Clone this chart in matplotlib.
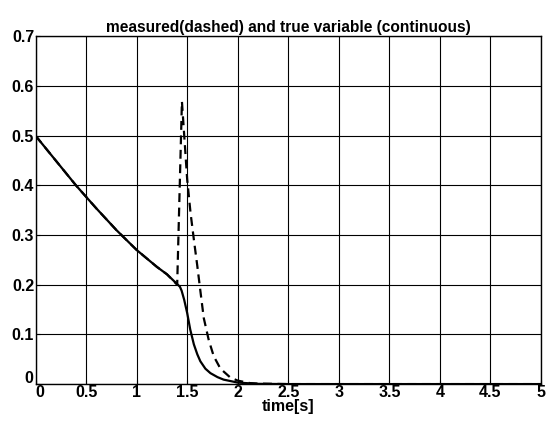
import numpy as np
import matplotlib.pyplot as plt
import matplotlib.transforms as mtransforms

plt.rcParams['font.family'] = ['Liberation Sans', 'DejaVu Sans']

# true variable (continuous)
t_true = [0, 0.2, 0.4, 0.6, 0.8, 1.0, 1.2, 1.3, 1.428, 1.445, 1.47, 1.5, 1.53, 1.566,
          1.6, 1.63, 1.68, 1.73, 1.8, 1.86, 2.0, 2.2, 2.5, 3.0, 4.0, 5.0]
y_true = [0.5, 0.45, 0.4, 0.354, 0.31, 0.27, 0.236, 0.221, 0.196, 0.188, 0.17, 0.143, 0.11, 0.08,
          0.06, 0.046, 0.031, 0.022, 0.014, 0.009, 0.003, 0.0005, 0.0, 0.0, 0.0, 0.0]

# measured variable (dashed)
t_meas = [0, 0.2, 0.4, 0.6, 0.8, 1.0, 1.2, 1.3, 1.401, 1.448, 1.5, 1.533, 1.566,
          1.6, 1.632, 1.664, 1.714, 1.763, 1.829, 1.928, 2.0, 2.12, 2.2, 2.5,
          3.0, 4.0, 5.0]
y_meas = [0.5, 0.45, 0.4, 0.354, 0.31, 0.27, 0.236, 0.221, 0.2, 0.569, 0.412, 0.345, 0.291,
          0.238, 0.185, 0.133, 0.088, 0.056, 0.031, 0.013, 0.007, 0.002, 0.001, 0.0,
          0.0, 0.0, 0.0]

fig = plt.figure(figsize=(5.47, 4.23), dpi=100)
ax = fig.add_axes([0.065, 0.092, 0.924, 0.822])

ax.plot(t_true, y_true, color='black', linewidth=1.6)
ax.plot(t_meas, y_meas, color='black', linewidth=1.6, linestyle=(0, (4, 2.5)))

ax.set_xlim(0, 5)
ax.set_ylim(0, 0.7)
ax.set_xticks(np.arange(0, 5.01, 0.5))
ax.set_yticks(np.arange(0, 0.71, 0.1))
ax.set_xticklabels(['0', '0.5', '1', '1.5', '2', '2.5', '3', '3.5', '4', '4.5', '5'])
ax.set_yticklabels(['0', '0.1', '0.2', '0.3', '0.4', '0.5', '0.6', '0.7'])
ax.grid(True, color='black', linewidth=0.8, linestyle='-')
ax.tick_params(direction='in', length=3, labelsize=11.5, pad=1)
for lab in ax.get_xticklabels() + ax.get_yticklabels():
    lab.set_fontweight('bold')
for s in ax.spines.values():
    s.set_linewidth(1.0)

# the two zero labels sit apart at the corner, as in the original
x0 = ax.get_xticklabels()[0]
x0.set_transform(x0.get_transform() + mtransforms.ScaledTranslation(3 / 72, 0, fig.dpi_scale_trans))
y0 = ax.get_yticklabels()[0]
y0.set_transform(y0.get_transform() + mtransforms.ScaledTranslation(-1 / 72, 5 / 72, fig.dpi_scale_trans))

ax.set_title('measured(dashed) and true variable (continuous)', fontsize=11.2,
             fontweight='bold', pad=3)
ax.set_xlabel('time[s]', fontsize=11.5, fontweight='bold', labelpad=-1)

fig.savefig('out.png', dpi=100)
